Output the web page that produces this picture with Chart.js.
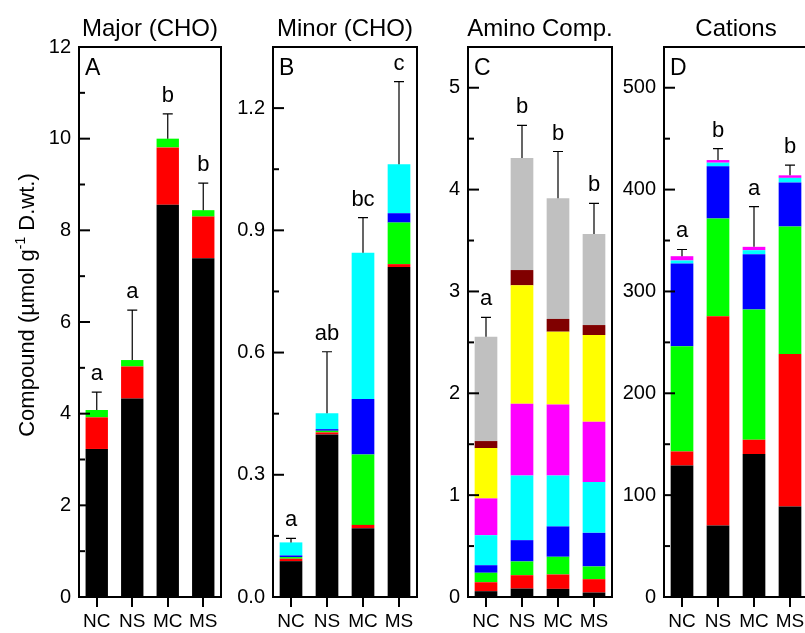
<!DOCTYPE html>
<html>
<head>
<meta charset="utf-8">
<script src="https://cdn.jsdelivr.net/npm/chart.js@4.4.1/dist/chart.umd.min.js"></script>
<style>
  html, body { margin: 0; padding: 0; background: #fff; overflow: hidden; }
  #wrap { position: relative; width: 805px; height: 633px; overflow: hidden; }
  #wrap canvas { position: absolute; top: 0; }
</style>
</head>
<body>
<div id="wrap">
  <canvas id="chartA" width="230" height="633" style="left:0px"></canvas>
  <canvas id="chartB" width="195" height="633" style="left:230px"></canvas>
  <canvas id="chartC" width="195" height="633" style="left:425px"></canvas>
  <canvas id="chartD" width="200" height="633" style="left:620px"></canvas>
</div>
<script>
// treatments
const groups = ["NC", "NS", "MC", "MS"];

// A - major carbohydrates (black, red, green segments)
const majorBlack = [3.23, 4.33, 8.56, 7.39];
const majorRed   = [0.69, 0.70, 1.25, 0.91];
const majorGreen = [0.16, 0.14, 0.19, 0.14];
const majorErr   = [0.39, 1.09, 0.54, 0.59];
const majorSig   = ["a", "a", "b", "b"];
const majorTicks = ["0", "2", "4", "6", "8", "10", "12"];

// B - minor carbohydrates
const minorBlack = [0.088, 0.399, 0.169, 0.810];
const minorRed   = [0.006, 0.005, 0.008, 0.007];
const minorGreen = [0.004, 0.004, 0.173, 0.102];
const minorBlue  = [0.004, 0.004, 0.136, 0.023];
const minorCyan  = [0.032, 0.039, 0.359, 0.120];
const minorErr   = [0.010, 0.151, 0.086, 0.203];
const minorSig   = ["a", "ab", "bc", "c"];
const minorTicks = ["0.0", "0.3", "0.6", "0.9", "1.2"];

// C - amino compounds
const aminoBlack   = [0.057, 0.083, 0.080, 0.044];
const aminoRed     = [0.088, 0.131, 0.141, 0.131];
const aminoGreen   = [0.093, 0.135, 0.174, 0.125];
const aminoBlue    = [0.074, 0.209, 0.298, 0.330];
const aminoCyan    = [0.295, 0.636, 0.501, 0.498];
const aminoMagenta = [0.361, 0.704, 0.697, 0.593];
const aminoYellow  = [0.494, 1.162, 0.714, 0.851];
const aminoDarkRed = [0.069, 0.150, 0.125, 0.098];
const aminoGray    = [1.025, 1.100, 1.184, 0.894];
const aminoErr     = [0.19, 0.32, 0.46, 0.30];
const aminoSig     = ["a", "b", "b", "b"];
const aminoTicks   = ["0", "1", "2", "3", "4", "5"];

// D - cations
const cationBlack   = [129.1, 70.1, 140.3, 88.8];
const cationRed     = [13.8, 205.5, 14.1, 149.8];
const cationGreen   = [103.2, 96.1, 127.8, 125.2];
const cationBlue    = [81.3, 51.1, 54.4, 43.2];
const cationCyan    = [3.0, 3.6, 3.9, 4.5];
const cationMagenta = [4.2, 2.6, 3.3, 2.5];
const cationErr     = [6.6, 11.2, 39.4, 10.0];
const cationSig     = ["a", "b", "a", "b"];
const cationTicks   = ["0", "100", "200", "300", "400", "500"];

const FONT = "'Liberation Sans', Arial, Helvetica, sans-serif";
Chart.defaults.font.family = FONT;
Chart.defaults.color = "#000";

// frame, inward ticks, error bars, letters, titles
const panelDecor = {
    id: 'panelDecor',
    afterDatasetsDraw(chart, args, opts) {
        const ctx = chart.ctx;
        const a = chart.chartArea;
        const x = chart.scales.x;
        const y = chart.scales.y;
        ctx.save();
        ctx.strokeStyle = '#000';
        ctx.fillStyle = '#000';

        // y ticks pointing inside
        ctx.lineWidth = 2;
        y.ticks.forEach(function (t) {
            const py = y.getPixelForValue(t.value);
            const len = t.label !== '' ? 11 : 6;
            ctx.beginPath();
            ctx.moveTo(a.left, py);
            ctx.lineTo(a.left + len, py);
            ctx.stroke();
        });

        // error bars (upper only) + significance letters
        const ds = chart.data.datasets;
        ctx.lineWidth = 1.2;
        ctx.font = '22px ' + FONT;
        ctx.textAlign = 'center';
        ctx.textBaseline = 'alphabetic';
        groups.forEach(function (g, i) {
            let total = 0;
            ds.forEach(d => { total += d.data[i]; });
            const px = x.getPixelForValue(i);
            const y0 = y.getPixelForValue(total);
            const y1 = y.getPixelForValue(total + opts.err[i]);
            ctx.beginPath();
            ctx.moveTo(px, y0);
            ctx.lineTo(px, y1);
            ctx.moveTo(px - 5, y1);
            ctx.lineTo(px + 5, y1);
            ctx.stroke();
            ctx.fillText(opts.sig[i], px, y1 - 12);
        });

        // frame
        ctx.lineWidth = 2;
        ctx.strokeRect(a.left, a.top, a.right - a.left, a.bottom - a.top);

        // panel tag
        ctx.textAlign = 'left';
        ctx.font = '23px ' + FONT;
        ctx.fillText(opts.tag, a.left + 6, a.top + 28);

        // title
        ctx.textAlign = 'center';
        ctx.font = '24px ' + FONT;
        ctx.fillText(opts.title, (a.left + a.right) / 2, 36);

        // shared y axis title with superscript
        if (opts.yTitle) {
            const p1 = 'Compound (\u00b5mol g', p2 = '-1', p3 = ' D.wt.)';
            ctx.translate(26, 305);
            ctx.rotate(-Math.PI / 2);
            ctx.font = '22px ' + FONT;
            const w1 = ctx.measureText(p1).width;
            const w3 = ctx.measureText(p3).width;
            ctx.font = '14px ' + FONT;
            const w2 = ctx.measureText(p2).width;
            let sx = -(w1 + w2 + w3) / 2;
            ctx.textAlign = 'left';
            ctx.font = '22px ' + FONT;
            ctx.fillText(p1, sx, 8);
            sx += w1;
            ctx.font = '14px ' + FONT;
            ctx.fillText(p2, sx, -1);
            sx += w2;
            ctx.font = '22px ' + FONT;
            ctx.fillText(p3, sx, 8);
        }
        ctx.restore();
    }
};

function makePanel(id, p) {
    const el = document.getElementById(id);
    return new Chart(el, {
        type: 'bar',
        data: {
            labels: groups,
            datasets: p.series.map(function (vals, k) {
                return {
                    data: vals,
                    backgroundColor: p.colors[k],
                    borderWidth: 0,
                    barPercentage: 0.63,
                    categoryPercentage: 1
                };
            })
        },
        options: {
            responsive: false,
            animation: false,
            events: [],
            layout: { padding: { top: 47, right: p.padRight, left: 0, bottom: 0 } },
            plugins: {
                legend: { display: false },
                tooltip: { enabled: false },
                panelDecor: { title: p.title, tag: p.tag, err: p.err, sig: p.sig, yTitle: !!p.yTitle }
            },
            scales: {
                x: {
                    stacked: true,
                    offset: true,
                    grid: { display: true, offset: false, drawOnChartArea: false, drawTicks: true, tickLength: 10, color: '#000', lineWidth: 2 },
                    border: { display: false },
                    ticks: { font: { size: 19 }, color: '#000', padding: 3, maxRotation: 0 },
                    afterFit: function (s) { s.height = 36; }
                },
                y: {
                    stacked: true,
                    min: 0,
                    max: p.max,
                    grid: { display: false, drawTicks: false },
                    border: { display: false },
                    ticks: {
                        stepSize: p.step,
                        includeBounds: false,
                        autoSkip: false,
                        padding: 8,
                        font: { size: 20 },
                        color: '#000',
                        callback: function (v) {
                            const hit = p.tickLabels.find(s => Math.abs(parseFloat(s) - v) < 1e-6);
                            return hit !== undefined ? hit : '';
                        }
                    },
                    afterFit: function (s) { s.width = p.yWidth; }
                }
            }
        },
        plugins: [panelDecor]
    });
}

makePanel('chartA', {
    title: 'Major (CHO)', tag: 'A', yTitle: true,
    series: [majorBlack, majorRed, majorGreen],
    colors: ['#000000', '#ff0000', '#00ff00'],
    err: majorErr, sig: majorSig, tickLabels: majorTicks,
    max: 12, step: 1, yWidth: 79, padRight: 9
});

makePanel('chartB', {
    title: 'Minor (CHO)', tag: 'B',
    series: [minorBlack, minorRed, minorGreen, minorBlue, minorCyan],
    colors: ['#000000', '#ff0000', '#00ff00', '#0000ff', '#00ffff'],
    err: minorErr, sig: minorSig, tickLabels: minorTicks,
    max: 1.35, step: 0.15, yWidth: 43, padRight: 8
});

makePanel('chartC', {
    title: 'Amino Comp.', tag: 'C',
    series: [aminoBlack, aminoRed, aminoGreen, aminoBlue, aminoCyan, aminoMagenta, aminoYellow, aminoDarkRed, aminoGray],
    colors: ['#000000', '#ff0000', '#00ff00', '#0000ff', '#00ffff', '#ff00ff', '#ffff00', '#800000', '#c0c0c0'],
    err: aminoErr, sig: aminoSig, tickLabels: aminoTicks,
    max: 5.4, step: 0.5, yWidth: 43, padRight: 8
});

makePanel('chartD', {
    title: 'Cations', tag: 'D',
    series: [cationBlack, cationRed, cationGreen, cationBlue, cationCyan, cationMagenta],
    colors: ['#000000', '#ff0000', '#00ff00', '#0000ff', '#00ffff', '#ff00ff'],
    err: cationErr, sig: cationSig, tickLabels: cationTicks,
    max: 540, step: 50, yWidth: 44, padRight: 12
});
</script>
</body>
</html>
